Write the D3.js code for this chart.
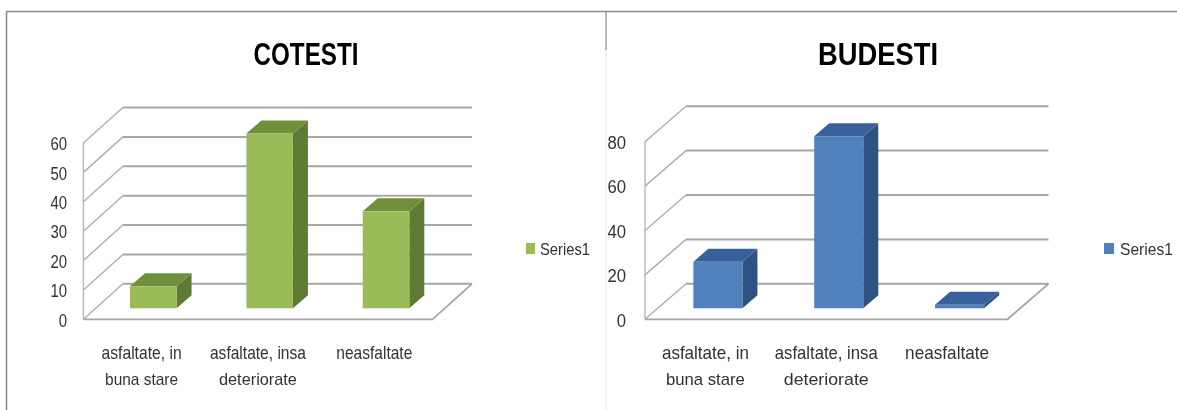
<!DOCTYPE html>
<head>
  <meta charset="UTF-8">
  <script src="https://d3js.org/d3.v7.min.js"></script>
</head>
<body>
  <svg id="chart"></svg>
</body>
<style>
  html,body { margin: 0; padding: 0; background: #fff; overflow: hidden; }
  svg { display: block; }
  text { font-family: 'Liberation Sans',sans-serif; fill: #333; }
  .title { font-weight: bold; fill: #000; }
</style>
<script type="text/javascript">
  // values
  const categories=[["asfaltate, in","buna stare"],["asfaltate, insa","deteriorate"],["neasfaltate",""]];
  const cotestiValues=[7.5,59.5,33];
  const budestiValues=[21,77.5,1.6];
  const cotestiTicks=[0,10,20,30,40,50,60];
  const budestiTicks=[0,20,40,60,80];
  const legendLabel="Series1";

  const width=1177,height=410;
  const svg=d3.select('#chart').attr('width',width).attr('height',height);

  const defs=svg.append('defs');
  defs.append('filter').attr('id','soft')
    .append('feGaussianBlur').attr('stdDeviation',0.4);

  // window edges of the screenshot
  const frame=svg.append('g').attr('fill','none');
  frame.append('path').attr('d','M6.5,410V11.5H1177').attr('stroke','#8c8c8c').attr('stroke-width',1.6);
  frame.append('path').attr('d','M606,11V50').attr('stroke','#8c8c8c').attr('stroke-width',1.2);
  frame.append('path').attr('d','M606,50V410').attr('stroke','#e2e2e2').attr('stroke-width',1);

  function drawPanel(cfg){
    const g=svg.append('g').attr('filter','url(#soft)');
    const x=d3.scaleBand().domain(d3.range(categories.length)).range([cfg.x0,cfg.x1])
      .paddingInner(cfg.padding).paddingOuter(cfg.padding/2);
    const y=d3.scaleLinear().domain([0,d3.max(cfg.ticks)]).range([319.3,cfg.yTop]);
    const dx=cfg.dx,dy=35.5;

    // back wall grid, side wall and floor
    g.selectAll('line.grid').data(cfg.ticks).join('line')
      .attr('class','grid')
      .attr('x1',cfg.x0+dx).attr('x2',cfg.x1+dx)
      .attr('y1',d => y(d)-dy).attr('y2',d => y(d)-dy)
      .attr('stroke','#a6a6a6').attr('stroke-width',2);
    g.selectAll('line.side').data(cfg.ticks).join('line')
      .attr('class','side')
      .attr('x1',cfg.x0).attr('x2',cfg.x0+dx)
      .attr('y1',d => y(d)).attr('y2',d => y(d)-dy)
      .attr('stroke','#aeaeae').attr('stroke-width',1.4);
    g.append('line')
      .attr('x1',cfg.x0).attr('x2',cfg.x0)
      .attr('y1',y(d3.max(cfg.ticks))).attr('y2',y(0))
      .attr('stroke','#b4b4b4').attr('stroke-width',1.3);
    g.append('path')
      .attr('d',`M${cfg.x0},${y(0)}H${cfg.x1}L${cfg.x1+dx},${y(0)-dy}`)
      .attr('fill','none').attr('stroke','#a6a6a6').attr('stroke-width',1.8);

    // bars stand a bit inside the floor
    const bx=cfg.shift,by=11,bdx=15,bdy=13;
    const bars=g.selectAll('g.bar').data(cfg.values).join('g').attr('class','bar')
      .attr('transform',(d,i) => `translate(${x(i)+bx},${-by})`);
    const w=x.bandwidth();
    bars.append('path').attr('fill',cfg.side)
      .attr('d',d => `M${w},${y(d)}l${bdx},${-bdy}V${y(0)-bdy}l${-bdx},${bdy}Z`);
    bars.append('path').attr('fill',cfg.top)
      .attr('d',d => `M0,${y(d)}l${bdx},${-bdy}h${w}l${-bdx},${bdy}Z`);
    bars.append('rect').attr('fill',cfg.front)
      .attr('width',w)
      .attr('y',d => y(d))
      .attr('height',d => y(0)-y(d));

    // value axis
    const yAxis=g.append('g')
      .attr('transform',`translate(${cfg.tickX},1)`)
      .call(d3.axisLeft(y).tickValues(cfg.ticks).tickSize(0).tickPadding(0));
    yAxis.select('.domain').remove();
    yAxis.selectAll('text')
      .attr('font-size',18)
      .style('font-family',"'Liberation Sans',sans-serif")
      .attr('textLength',d => d === 0 ? cfg.digitW : cfg.digitW*2)
      .attr('lengthAdjust','spacingAndGlyphs');

    // category labels, two lines
    const labels=g.selectAll('g.cat').data(categories).join('g').attr('class','cat')
      .attr('transform',(d,i) => `translate(${x(i)+w/2},0)`)
      .attr('text-anchor','middle');
    labels.append('text').attr('y',359).attr('font-size',19)
      .attr('textLength',(d,i) => cfg.labelW[i]).attr('lengthAdjust','spacingAndGlyphs')
      .text(d => d[0]);
    labels.append('text').attr('y',385).attr('font-size',17)
      .attr('textLength',d => d[1] ? cfg.labelW2[categories.indexOf(d)] : null).attr('lengthAdjust','spacingAndGlyphs')
      .text(d => d[1]);

    // title and legend
    g.append('text').attr('class','title')
      .attr('x',cfg.titleX).attr('y',65).attr('text-anchor','middle')
      .attr('font-size',32)
      .attr('textLength',cfg.titleW).attr('lengthAdjust','spacingAndGlyphs')
      .text(cfg.title);
    g.append('rect').attr('x',cfg.legendX).attr('y',243).attr('width',cfg.swatch).attr('height',11).attr('fill',cfg.front);
    g.append('text').attr('x',cfg.textX).attr('y',255).attr('font-size',16.5)
      .attr('textLength',cfg.legendW).attr('lengthAdjust','spacingAndGlyphs')
      .text(legendLabel);
  }

  drawPanel({
    title: "COTESTI",titleX: 306,titleW: 105,
    values: cotestiValues,ticks: cotestiTicks,
    x0: 83.4,x1: 432.5,padding: 0.6,yTop: 143,dx: 39.5,shift: 11.7,tickX: 67,digitW: 8.3,
    labelW: [80,96,76],labelW2: [73,78],
    front: '#9bbb59',top: '#708f3b',side: '#5e7a31',
    legendX: 526,swatch: 9,textX: 540,legendW: 50
  });
  drawPanel({
    title: "BUDESTI",titleX: 878,titleW: 120,
    values: budestiValues,ticks: budestiTicks,
    x0: 645,x1: 1007.5,padding: 0.594,yTop: 141.7,dx: 41,shift: 12.5,tickX: 626,digitW: 9.3,
    labelW: [87,103,84],labelW2: [79,85],
    front: '#4f81bd',top: '#37609a',side: '#2f5282',
    legendX: 1104,swatch: 10,textX: 1120,legendW: 53
  });
</script>
